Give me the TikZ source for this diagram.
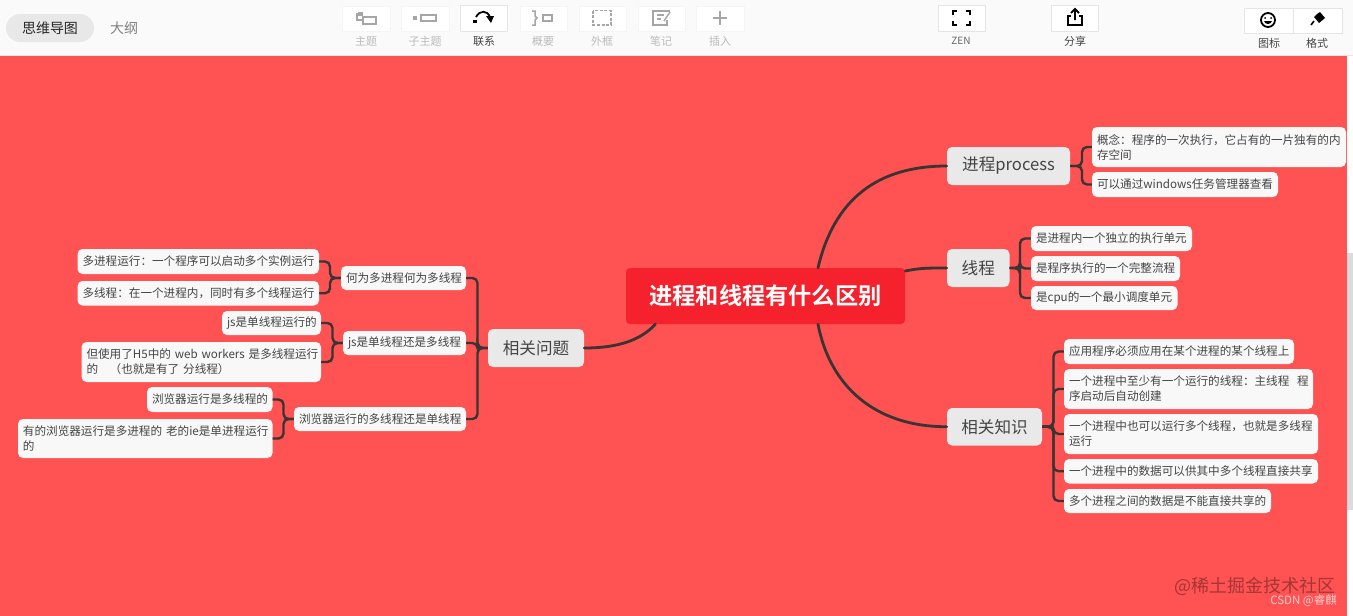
\documentclass[tikz,border=0pt]{standalone}
\usepackage{fontspec}
\setmainfont{Noto Sans CJK SC}[BoldFont={Noto Sans CJK SC Bold}]
\usetikzlibrary{calc}
\definecolor{bgred}{HTML}{FF5252}
\definecolor{rootred}{HTML}{F5222D}
\definecolor{linedark}{HTML}{3A3433}
\definecolor{leaffill}{HTML}{F8F8F8}
\definecolor{subfill}{HTML}{E9E9E9}
\definecolor{ink}{HTML}{444444}
\definecolor{barbg}{HTML}{FAFAFA}
\definecolor{faint}{HTML}{BBBBBB}
\definecolor{iconfaint}{HTML}{A6A6A6}
\newcommand{\fs}[2]{\fontsize{#1}{#2}\selectfont}
\newcommand{\bx}[7]{%
  \pgfmathsetmacro{\bw}{#5-#3}\pgfmathsetmacro{\bh}{#6-#4}%
  \pgfmathsetmacro{\bcx}{(#3+#5)/2}\pgfmathsetmacro{\bcy}{(#4+#6)/2}%
  \node[#1,minimum width=\bw pt,minimum height=\bh pt] (#2) at (\bcx,\bcy) {#7};}
\newcommand{\lf}[6]{%
  \pgfmathsetmacro{\bw}{#4-#2}\pgfmathsetmacro{\bh}{#5-#3}%
  \pgfmathsetmacro{\bcx}{(#2+#4)/2}\pgfmathsetmacro{\bcy}{(#3+#5)/2}%
  \node[leaf,minimum height=\bh pt,text width=\bw pt-10pt] (#1) at (\bcx,\bcy) {#6};}
\tikzset{
  x=1pt,y=-1pt,
  leaf/.style={fill=leaffill,rounded corners=5pt,inner xsep=5pt,inner ysep=0pt,align=left,text=ink,font=\fs{11.6}{15}},
  sub/.style={fill=subfill,rounded corners=5pt,inner sep=0pt,text=ink,font=\fs{16.6}{20}},
  rootbox/.style={fill=rootred,rounded corners=4pt,inner sep=0pt,text=white,font=\fs{23.2}{28}\bfseries},
  main/.style={draw=linedark,line width=2.8pt,line cap=round},
  branch/.style={draw=linedark,line width=2.4pt,rounded corners=5pt},
  tbtn/.style={fill=white,draw=black!4,line width=.8pt,inner sep=0pt},
  tlab/.style={text=faint,inner sep=0pt,font=\fs{11}{13}},
  tlabd/.style={text=ink,inner sep=0pt,font=\fs{11}{13}},
  ico/.style={draw=iconfaint,line width=1.5pt},
  icod/.style={draw=black,line width=1.8pt},
}
\begin{document}
\begin{tikzpicture}
\useasboundingbox (0,0) rectangle (1353,616);
% backgrounds
\fill[bgred] (0,55) rectangle (1347,616);
\fill[barbg] (0,0) rectangle (1353,55);
\fill[black!10] (0,54.5) rectangle (1353,55.5);
\fill[white] (1347,56) rectangle (1353,253);
\fill[black!14] (1347,253) rectangle (1353,510);
\fill[white] (1347,510) rectangle (1353,616);
% tab bar
\bx{fill=black!9,rounded corners=14pt}{tabpill}{6}{14}{94}{42}{}
\node[inner sep=0pt,text=black!85,font=\fs{14}{16}] (tabmind) at (50,28) {思维导图};
\node[inner sep=0pt,text=black!50,font=\fs{14}{16}] (tabout) at (124,28) {大纲};
% toolbar buttons
\bx{tbtn}{b1}{342}{6}{390}{31}{}
\bx{tbtn}{b2}{401}{6}{449}{31}{}
\bx{tbtn,draw=black!10}{b3}{460}{5}{507}{31}{}
\bx{tbtn}{b4}{520}{6}{567}{31}{}
\bx{tbtn}{b5}{579}{6}{626}{31}{}
\bx{tbtn}{b6}{638}{6}{685}{31}{}
\bx{tbtn}{b7}{696}{6}{744}{31}{}
\bx{tbtn,draw=black!10}{b8}{938}{5}{985}{31}{}
\bx{tbtn,draw=black!10}{b9}{1051}{5}{1098}{31}{}
\bx{tbtn,draw=black!10}{b10}{1244}{8}{1293}{33}{}
\bx{tbtn,draw=black!10}{b11}{1293}{8}{1342}{33}{}
\node[tlab] (l1) at (366,41) {主题};
\node[tlab] (l2) at (425,41) {子主题};
\node[tlabd] (l3) at (484,41) {联系};
\node[tlab] (l4) at (543,41) {概要};
\node[tlab] (l5) at (602,41) {外框};
\node[tlab] (l6) at (661,41) {笔记};
\node[tlab] (l7) at (720,41) {插入};
\node[tlabd,text=black!60,font=\fs{10}{12}] (l8) at (961,41) {ZEN};
\node[tlabd] (l9) at (1075,41) {分享};
\node[tlabd] (l10) at (1269,43) {图标};
\node[tlabd] (l11) at (1317,43) {格式};
% icons
\draw[ico] (363,17) rectangle (376,24);
\draw[ico] (357,13) -- (357,20) -- (363,20);
\fill[iconfaint] (358,11.5) rectangle (363,16);
\fill[iconfaint] (413,16) rectangle (417,20);
\draw[ico] (421,15) rectangle (436,21);
\fill[black] (473,20) rectangle (477,23);
\draw[icod] (476,17) .. controls (480,10) and (487,10) .. (490,17);
\fill[black] (486,16) -- (494,16) -- (491,23) -- cycle;
\draw[ico] (532,11) -- (535,11) -- (535,16) -- (537,18) -- (535,20) -- (535,25) -- (532,25);
\draw[ico] (543,15) rectangle (552,21);
\draw[ico,dash pattern=on 3pt off 1.6pt] (593,10.5) rectangle (611,25);
\draw[ico] (670,11) -- (653,11) -- (653,25) -- (667,25) -- (667,20);
\draw[ico] (657,15) -- (664,15) (657,19) -- (661,19);
\draw[ico] (664,21) -- (670,12);
\draw[ico] (720,11) -- (720,25) (713,18) -- (727,18);
\draw[icod] (953,15) -- (953,11) -- (957,11) (966,11) -- (970,11) -- (970,15) (970,21) -- (970,25) -- (966,25) (957,25) -- (953,25) -- (953,21);
\draw[icod] (1075,20) -- (1075,10) (1071,13) -- (1075,9) -- (1079,13);
\draw[icod] (1071,16) -- (1068,16) -- (1068,25) -- (1082,25) -- (1082,16) -- (1079,16);
\draw[icod] (1268,20) circle (7pt);
\fill[black] (1265,18) circle (1pt) (1271,18) circle (1pt);
\fill[black] (1264,21) .. controls (1265,25) and (1271,25) .. (1272,21) -- cycle;
\fill[black] (1317,14) -- (1320,12) -- (1325,18) -- (1319,23) -- (1314,17) -- cycle;
\draw[black,line width=1.6pt] (1314,21) -- (1311,25);
% mind map nodes
\bx{rootbox}{root}{626}{268}{905}{324}{进程和线程有什么区别}
\bx{sub}{p1}{947}{147}{1070}{185}{进程process}
\bx{sub}{p2}{947}{249}{1009.5}{287}{线程}
\bx{sub}{p3}{947}{408}{1042}{445.5}{相关知识}
\bx{sub}{p4}{488}{329}{584}{367}{相关问题}
\lf{a1}{1092}{127}{1346}{167}{\mbox{概念：程序的一次执行，它占有的一片独有的内}\\存空间}
\lf{a2}{1092}{172}{1278}{197}{\mbox{可以通过windows任务管理器查看}}
\lf{c1}{1031}{226}{1192}{251}{\mbox{是进程内一个独立的执行单元}}
\lf{c2}{1031}{256}{1180}{281}{\mbox{是程序执行的一个完整流程}}
\lf{c3}{1031}{286}{1177.5}{310}{\mbox{是cpu的一个最小调度单元}}
\lf{d1}{1064}{339}{1294}{364}{\mbox{应用程序必须应用在某个进程的某个线程上}}
\lf{d2}{1064}{369}{1313}{409}{\mbox{一个进程中至少有一个运行的线程：主线程\ \ 程}\\序启动后自动创建}
\lf{d3}{1064}{414}{1318}{454}{\mbox{一个进程中也可以运行多个线程，也就是多线程}\\运行}
\lf{d4}{1064}{459}{1318}{483.5}{\mbox{一个进程中的数据可以供其中多个线程直接共享}}
\lf{d5}{1064}{489}{1271}{513}{\mbox{多个进程之间的数据是不能直接共享的}}
\lf{s1}{341}{266}{466}{290}{\mbox{何为多进程何为多线程}}
\lf{s2}{343}{331}{466}{355}{\mbox{js是单线程还是多线程}}
\lf{s3}{294}{407}{466}{431}{\mbox{浏览器运行的多线程还是单线程}}
\lf{e1}{77.5}{249}{319}{274}{\mbox{多进程运行：一个程序可以启动多个实例运行}}
\lf{e2}{77.5}{281}{319}{305.5}{\mbox{多线程：在一个进程内，同时有多个线程运行}}
\lf{f1}{222}{311}{321}{335}{\mbox{js是单线程运行的}}
\lf{f2}{81.5}{342}{321}{382}{\mbox{但使用了H5中的 web workers 是多线程运行}\\\mbox{的\ \ \ （也就是有了 分线程）}}
\lf{g1}{147}{387}{272.5}{412}{\mbox{浏览器运行是多线程的}}
\lf{g2}{18}{419}{272.5}{458}{\mbox{有的浏览器运行是多进程的 老的ie是单进程运行}\\的}
% main connectors
\draw[main] ([xshift=52.5pt]root.north) .. controls +(16,-68) and +(-70,0) .. (p1.west);
\draw[main] (root.east |- 0,271) .. controls +(15,-3) and +(-20,0) .. (p2.west);
\draw[main] ([xshift=52.5pt]root.south) .. controls +(12,62) and +(-72,0) .. (p3.west);
\draw[main] (p4.east) .. controls +(34,0) and +(-15,16) .. ([xshift=-110pt]root.south);
% branch connectors
\coordinate (va) at (1082,0);
\coordinate (vc) at (1020,0);
\coordinate (vd) at (1053.5,0);
\coordinate (vs) at (477.5,0);
\coordinate (ve) at (330,0);
\coordinate (vf) at (332.5,0);
\coordinate (vg) at (283.5,0);
\foreach \p/\c/\v in {p1/a1/va,p1/a2/va,p2/c1/vc,p2/c2/vc,p2/c3/vc,p3/d1/vd,p3/d2/vd,p3/d3/vd,p3/d4/vd,p3/d5/vd}{
  \draw[branch] (\p.east) -- (\v |- \p.east) -- (\v |- \c.west) -- (\c.west);
}
\foreach \p/\c/\v in {p4/s1/vs,p4/s2/vs,p4/s3/vs,s1/e1/ve,s1/e2/ve,s2/f1/vf,s2/f2/vf,s3/g1/vg,s3/g2/vg}{
  \draw[branch] (\p.west) -- (\v |- \p.west) -- (\v |- \c.east) -- (\c.east);
}
% watermarks
\node[inner sep=0pt,text=black!35!bgred,font=\fs{18}{20},anchor=east] (wm1) at (1336,586) {@稀土掘金技术社区};
\node[inner sep=0pt,text=white!70!bgred,font=\fs{11.5}{13},anchor=east] (wm2) at (1337,601) {CSDN @睿麒};
\end{tikzpicture}
\end{document}
